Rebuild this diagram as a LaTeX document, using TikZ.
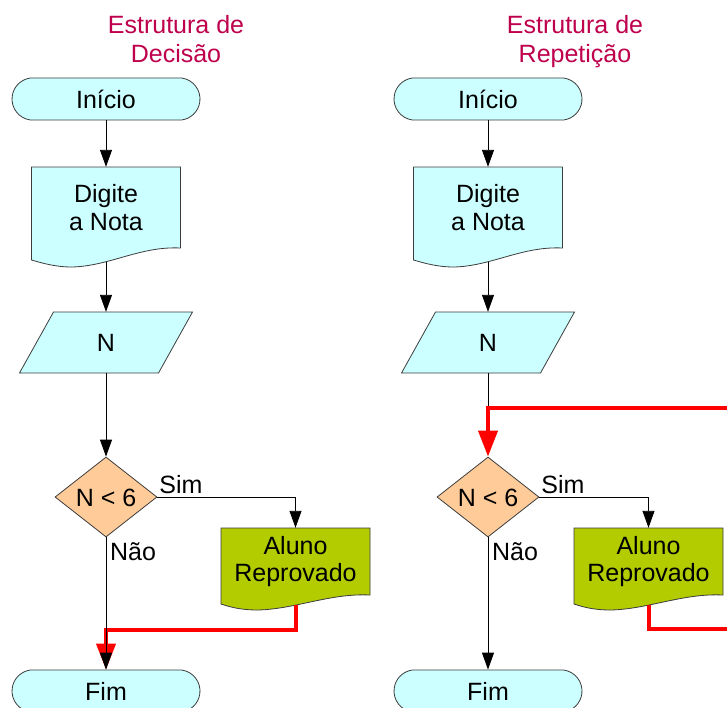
\documentclass[tikz,border=0pt]{standalone}
\usepackage{fontspec}
\setmainfont{Liberation Sans}
\usetikzlibrary{shapes.misc,shapes.geometric,arrows.meta,calc}
\definecolor{cyanfill}{RGB}{204,255,255}
\definecolor{peach}{RGB}{255,204,153}
\definecolor{alugreen}{RGB}{178,204,0}
\definecolor{titlecol}{RGB}{190,0,77}
\definecolor{outline}{RGB}{60,60,60}
\tikzset{
 shapeline/.style={draw=outline, line width=0.8pt},
 txt/.style={font=\fontsize{25}{27.5}\selectfont, text=black},
 term/.style={shapeline, fill=cyanfill, rounded rectangle, rounded rectangle arc length=165, minimum width=188pt, minimum height=42pt, inner sep=0pt, txt, text height=18pt, text depth=0pt},
 box/.style={draw=none, rectangle, inner sep=0pt},
 decbox/.style={shapeline, fill=peach, diamond, aspect=1.275, minimum width=102pt, minimum height=80pt, inner sep=0pt, txt, text height=18pt, text depth=0pt},
 conn/.style={draw=black, line width=0.9pt, -{Triangle[length=17pt,width=12pt]}},
 plain/.style={draw=black, line width=0.9pt},
 redc/.style={draw=red, line width=4pt, line join=miter},
 redarrow/.style={redc, -{Triangle[length=26pt,width=19pt]}},
 lbl/.style={txt, inner sep=0pt, text height=18pt, text depth=0pt},
 ttl/.style={font=\fontsize{25}{29}\selectfont, text=titlecol, inner sep=0pt},
}
\newcommand\flowcol[2]{%
 \node[term] (#1ini) at (106,99) {Início};
 \path[shapeline, fill=cyanfill] (31.5,167) -- (180.5,167) -- (180.5,248) .. controls (140,246) and (110,266) .. (72,267) .. controls (55,267) and (42,263) .. (31.5,260) -- cycle;
 \node[box, minimum width=149pt, minimum height=95pt, label={[txt, align=center, yshift=7pt]center:{Digite\\a Nota}}] (#1dig) at (106,214.5) {};
 \path[shapeline, fill=cyanfill] (53.5,312) -- (192.5,312) -- (158.5,373) -- (19.5,373) -- cycle;
 \node[box, minimum width=100pt, minimum height=61pt, txt, text height=18pt, text depth=0pt] (#1n) at (106,342.5) {N};
 \node[decbox] (#1dec) at (106,497) {N < 6};
 \path[shapeline, fill=alugreen] ({#2+74.5},528) -- ({#2-74.5},528) -- ({#2-74.5},604) .. controls ({#2-65.5},607) and ({#2-55},610) .. ({#2-37.5},610) .. controls ({#2},609) and ({#2+35},593) .. ({#2+74.5},595) -- cycle;
 \node[box, minimum width=149pt, minimum height=77pt, label={[txt, align=center, yshift=5pt]center:{Aluno\\Reprovado}}] (#1alu) at (#2,566.5) {};
 \node[term] (#1fim) at (106,691) {Fim};
 \node[lbl] (#1sim) at (181,484.5) {Sim};
 \node[lbl] (#1nao) at (133,551.5) {Não};
 \draw[conn] (#1ini.south) -- (#1dig.north);
 \draw[conn] (#1dig.south) -- (#1n.north);
 \draw[conn] (#1dec.east) -| (#1alu.north);
}
\begin{document}
\begin{tikzpicture}[x=1pt,y=-1pt]
\useasboundingbox (0,0) rectangle (727,707);
\fill[white] (0,0) rectangle (727,707);
\clip (0,0) rectangle (727,707);
\node[ttl, anchor=base] (t1a) at (176,33) {Estrutura de};
\node[ttl, anchor=base] (t1b) at (176,62) {Decisão};
\node[ttl, anchor=base] (t2a) at (575,33) {Estrutura de};
\node[ttl, anchor=base] (t2b) at (575,62) {Repetição};
\begin{scope}
\flowcol{L}{295.5}
\draw[conn] (Ln.south) -- (Ldec.north);
\draw[redarrow] (Lalu.south) -- ++(0,25) -| (Lfim.north);
\draw[conn] (Ldec.south) -- (Lfim.north);
\end{scope}
\begin{scope}[xshift=382pt]
\flowcol{R}{266.5}
\coordinate (Rin) at (360,408);
\coordinate (Rout) at (360,629);
\draw[plain] (Rn.south) -- (Rn.south |- Rin);
\draw[redarrow] (Rin) -| (Rdec.north);
\draw[redc] (Ralu.south) |- (Rout);
\draw[conn] (Rdec.south) -- (Rfim.north);
\end{scope}
\end{tikzpicture}
\end{document}
